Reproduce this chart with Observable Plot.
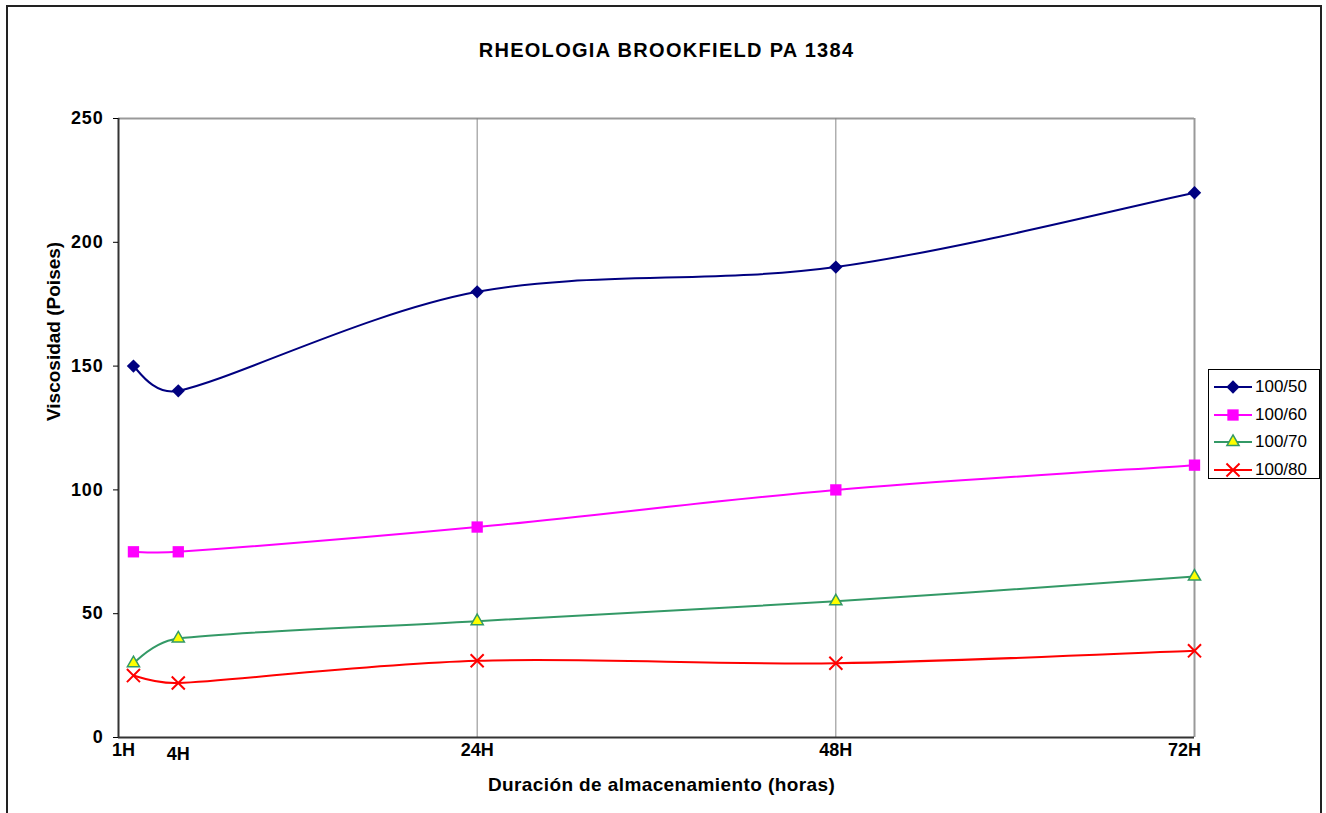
<!DOCTYPE html>
<html>
<head>
<meta charset="utf-8">
<script src="https://cdn.jsdelivr.net/npm/d3@7"></script>
<script src="https://cdn.jsdelivr.net/npm/@observablehq/plot@0.6"></script>
<style>
  html, body { margin: 0; padding: 0; background: #fff; }
  body { width: 1326px; height: 813px; position: relative; overflow: hidden; font-family: "Liberation Sans", Arial, sans-serif; }
  #outer { position: absolute; left: 6px; top: 5px; width: 1316px; height: 900px; border: 2px solid #222; box-sizing: border-box; }
  #chart { position: absolute; left: 0; top: 0; }
  #legend { position: absolute; left: 1208px; top: 369px; width: 112px; height: 110px; border: 1px solid #000; background: #fff; box-sizing: border-box; }
  .item { position: absolute; left: 0; height: 26px; display: flex; align-items: center; }
  .item span { font-size: 17px; color: #000; margin-left: 2px; }
</style>
</head>
<body>
<div id="outer"></div>
<div id="chart"></div>
<div id="legend"></div>
<script>
const titleText = "RHEOLOGIA BROOKFIELD PA 1384";
const xLabel = "Duración de almacenamiento (horas)";
const yLabel = "Viscosidad (Poises)";

const hours = [1, 4, 24, 48, 72];
const seriesNames = ["100/50", "100/60", "100/70", "100/80"];
const v50 = [150, 140, 180, 190, 220];
const v60 = [75, 75, 85, 100, 110];
const v70 = [30, 40, 47, 55, 65];
const v80 = [25, 22, 31, 30, 35];
const yTicks = [0, 50, 100, 150, 200, 250];
const gridHours = [24, 48, 72];

const colors = ["#000080", "#FF00FF", "#339966", "#FF0000"];
const symbols = ["diamond2", "square2", "triangle2", "times"];
const fills = ["#000080", "#FF00FF", "#FFFF00", "none"];
const radii = [6, 7.2, 5.8, 6];

const values = [v50, v60, v70, v80];
const rows = [];
seriesNames.forEach((s, i) => hours.forEach((h, j) => rows.push({series: s, hours: h, value: values[i][j]})));

// Spreadsheet-style smoothed line (Bezier with 1/6 tension, limited on short segments)
function SmoothCurve(context) { this._context = context; }
SmoothCurve.prototype = {
  areaStart() { this._line = 0; },
  areaEnd() { this._line = NaN; },
  lineStart() { this._pts = []; },
  point(x, y) { this._pts.push([+x, +y]); },
  lineEnd() {
    const p = this._pts, c = this._context, n = p.length;
    if (!n) return;
    c.moveTo(p[0][0], p[0][1]);
    if (n === 1) return;
    const dist = (a, b) => Math.hypot(b[0] - a[0], b[1] - a[1]);
    for (let i = 0; i < n - 1; i++) {
      const p0 = p[Math.max(i - 1, 0)], p1 = p[i], p2 = p[i + 1], p3 = p[Math.min(i + 2, n - 1)];
      const d02 = dist(p0, p2) || 1e-9, d12 = dist(p1, p2), d13 = dist(p1, p3) || 1e-9;
      let f1, f2;
      if (d02 / 6 < d12 / 2 && d13 / 6 < d12 / 2) { f1 = 1 / 6; f2 = 1 / 6; }
      else if (d02 / 6 >= d12 / 2 && d13 / 6 >= d12 / 2) { f1 = d12 / 2 / d02; f2 = d12 / 2 / d13; }
      else if (d02 / 6 >= d12 / 2) { f1 = d12 / 2 / d02; f2 = d12 / 2 / d13 * (d13 / d02); }
      else { f1 = d12 / 2 / d02 * (d02 / d13); f2 = d12 / 2 / d13; }
      const b1 = [p1[0] + (p2[0] - p0[0]) * f1, p1[1] + (p2[1] - p0[1]) * f1];
      const b2 = [p2[0] - (p3[0] - p1[0]) * f2, p2[1] - (p3[1] - p1[1]) * f2];
      c.bezierCurveTo(b1[0], b1[1], b2[0], b2[1], p2[0], p2[1]);
    }
  }
};
const smoothCurve = context => new SmoothCurve(context);

const font = {fontFamily: "Liberation Sans, Arial, sans-serif"};

const marks = [
  Plot.ruleY([yTicks[yTicks.length - 1]], {stroke: "#999", strokeWidth: 2}),
  Plot.ruleX(gridHours.slice(0, 2), {stroke: "#888", strokeWidth: 1}),
  Plot.ruleX(gridHours.slice(2), {stroke: "#999", strokeWidth: 2}),
  Plot.line(rows, {x: "hours", y: "value", z: "series", stroke: d => colors[seriesNames.indexOf(d.series)], curve: smoothCurve, strokeWidth: 2})
];
seriesNames.forEach((s, i) => {
  marks.push(Plot.dot(rows.filter(d => d.series === s), {
    x: "hours", y: "value", symbol: () => symbols[i], r: radii[i],
    fill: fills[i], stroke: colors[i], strokeWidth: i === 2 ? 1.5 : (i === 3 ? 2 : 0)
  }));
});
marks.push(
  Plot.ruleX([0], {stroke: "#333", strokeWidth: 2}),
  Plot.ruleY([0], {stroke: "#333", strokeWidth: 2}),
  Plot.axisY(yTicks, {label: null, tickSize: 5, tickPadding: 10, fontSize: 18, fontWeight: "bold", ...font, stroke: "#000"}),
  Plot.text(hours.filter(h => h === 1 || h === 72), {x: d => d, frameAnchor: "bottom", dy: 18, dx: -10, text: d => d + "H", fontSize: 18, fontWeight: "bold", ...font}),
  Plot.text(hours.filter(h => h === 4), {x: d => d, frameAnchor: "bottom", dy: 22, text: d => d + "H", fontSize: 18, fontWeight: "bold", ...font}),
  Plot.text(hours.filter(h => h === 24 || h === 48), {x: d => d, frameAnchor: "bottom", dy: 18, text: d => d + "H", fontSize: 18, fontWeight: "bold", ...font}),
  Plot.text([titleText], {frameAnchor: "top", dy: -76, dx: 10, fontSize: 20, fontWeight: "bold", ...font}),
  Plot.text([xLabel], {frameAnchor: "bottom", dy: 53, dx: 5, fontSize: 19, fontWeight: "bold", ...font}),
  Plot.text([yLabel], {frameAnchor: "left", dx: -65, dy: -7, rotate: -90, fontSize: 19, fontWeight: "bold", ...font})
);

const chart = Plot.plot({
  width: 1326,
  height: 813,
  marginLeft: 118,
  marginRight: 132,
  marginTop: 118,
  marginBottom: 76,
  style: {background: "transparent", overflow: "visible"},
  x: {domain: [0, 72], axis: null},
  y: {domain: [0, 250], axis: null},
  symbol: {type: "identity"},
  marks
});
document.getElementById("chart").appendChild(chart);

// spacing tweaks to mimic the wider original rendering
d3.select(chart).selectAll("text").each(function() {
  const t = this.textContent;
  if (t === titleText) this.setAttribute("letter-spacing", "1.3px");
  else if (t === xLabel) this.setAttribute("letter-spacing", "0.4px");
  else if (/^\d+$/.test(t)) this.setAttribute("letter-spacing", "0.8px");
});

// legend
const legend = d3.select("#legend");
seriesNames.forEach((s, i) => {
  const item = legend.append("div").attr("class", "item").style("top", (4 + i * 27.5) + "px").style("left", "4px");
  const svg = item.append("svg").attr("width", 40).attr("height", 20);
  svg.append("line").attr("x1", 1).attr("x2", 39).attr("y1", 10).attr("y2", 10).attr("stroke", colors[i]).attr("stroke-width", 2);
  const sym = {diamond2: d3.symbolDiamond2, square2: d3.symbolSquare2, triangle2: d3.symbolTriangle2, times: d3.symbolTimes}[symbols[i]];
  svg.append("path").attr("transform", "translate(20,10)")
    .attr("d", d3.symbol(sym, Math.PI * radii[i] * radii[i])())
    .attr("fill", fills[i]).attr("stroke", colors[i]).attr("stroke-width", i === 2 ? 1.5 : (i === 3 ? 2 : 0));
  item.append("span").text(s);
});
</script>
</body>
</html>
